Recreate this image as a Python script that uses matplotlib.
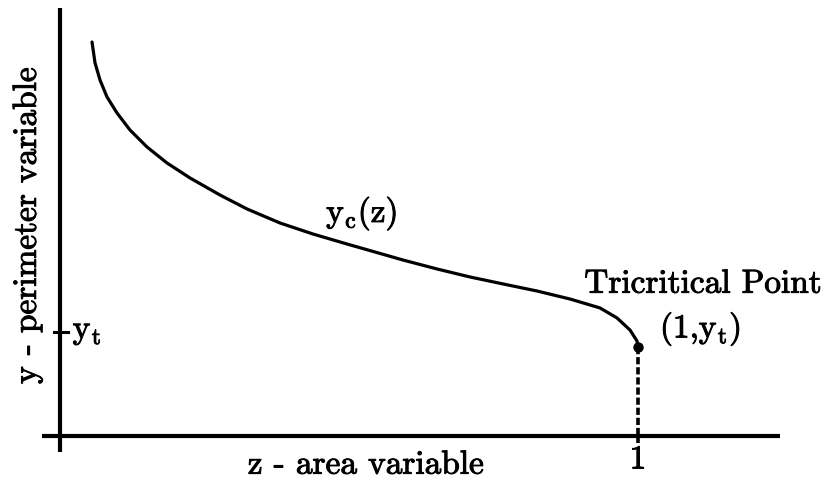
import numpy as np
from matplotlib import pyplot as plt
import matplotlib.patheffects as pe

plt.rcParams['font.family'] = ['cmr10', 'DejaVu Serif']
plt.rcParams['mathtext.fontset'] = 'cm'
plt.rcParams['axes.unicode_minus'] = False

# Кривая y_c(z), значения
z_curve = [0.0554, 0.0606, 0.0692, 0.0813, 0.0986, 0.1211, 0.1505, 0.1851, 0.2249,
           0.2768, 0.3235, 0.3806, 0.4377, 0.4965, 0.5450, 0.5934, 0.6522, 0.7093,
           0.7664, 0.8253, 0.8824, 0.9343, 0.9637, 0.9862, 0.9983, 1.0]
y_curve = [3.788, 3.587, 3.423, 3.260, 3.106, 2.942, 2.779, 2.625, 2.481,
           2.317, 2.183, 2.048, 1.942, 1.846, 1.769, 1.692, 1.606, 1.529,
           1.462, 1.394, 1.317, 1.231, 1.135, 1.019, 0.913, 0.856]

z_t = 1.0
y_point = 0.856
y_t = 1.0

fs = 24
bold = [pe.withStroke(linewidth=0.7, foreground='black')]

fig = plt.figure(figsize=(8.27, 4.79), dpi=100)
ax = fig.add_axes([0, 0, 1, 1])
ax.set_xlim(-0.1038, 1.327)
ax.set_ylim(-0.4135, 4.192)
ax.axis('off')

# оси
ax.plot([0, 0], [-0.154, 4.115], color='black', lw=3.0, solid_capstyle='butt')
ax.plot([-0.031, 1.246], [0, 0], color='black', lw=3.0, solid_capstyle='butt')

# метка y_t
ax.plot([-0.011, 0.013], [y_t, y_t], color='black', lw=2.2)
ax.text(0.022, y_t, r'$\mathrm{y_t}$', fontsize=fs, ha='left', va='center', path_effects=bold)

# кривая
ax.plot(z_curve, y_curve, color='black', lw=2.3, solid_capstyle='round', solid_joinstyle='round')
ax.plot([z_t], [y_point], 'o', color='black', ms=6.5)
ax.plot([z_t, z_t], [y_point, -0.07], color='black', lw=2.6, linestyle=(0, (2.0, 0.8)))

ax.text(0.522, 2.14, r'$\mathrm{y_c(z)}$', fontsize=fs, ha='center', va='center', path_effects=bold)
ax.text(1.112, 1.46, 'Tricritical Point', fontsize=fs, ha='center', va='center', path_effects=bold)
ax.text(1.108, 1.03, r'$\mathrm{(1{,}y_t)}$', fontsize=fs, ha='center', va='center', path_effects=bold)
ax.text(z_t, -0.23, '1', fontsize=fs, ha='center', va='center', path_effects=bold)

ax.text(0.529, -0.28, 'z - area variable', fontsize=fs, ha='center', va='center', path_effects=bold)
ax.text(-0.057, 2.02, 'y - perimeter variable', fontsize=fs, ha='center', va='center',
        rotation=90, path_effects=bold)

plt.savefig('out.png', dpi=100)
